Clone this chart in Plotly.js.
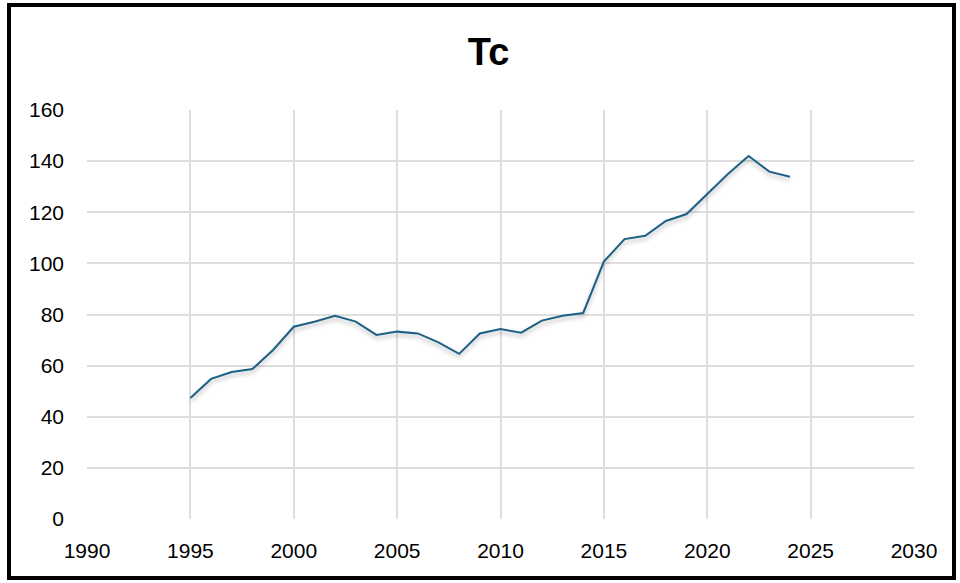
<!DOCTYPE html>
<html>
<head>
<meta charset="utf-8">
<script src="https://cdn.plot.ly/plotly-3.0.1.min.js"></script>
<style>
  html, body { margin: 0; padding: 0; background: #fff; }
  #wrap { position: relative; width: 960px; height: 583px; }
  #chart { position: absolute; left: 0; top: 0; width: 960px; height: 583px; }
  #frame { position: absolute; left: 7px; top: 3px; width: 949px; height: 577px;
           box-sizing: border-box; border: 4px solid #000; pointer-events: none; }
  #chart .scatterlayer path.js-line { filter: drop-shadow(0px 3px 2px rgba(0,0,0,0.28)); }
</style>
</head>
<body>
<div id="wrap">
  <div id="chart"></div>
  <div id="frame"></div>
</div>
<script>
const years = [1995, 1996, 1997, 1998, 1999, 2000, 2001, 2002, 2003, 2004,
               2005, 2006, 2007, 2008, 2009, 2010, 2011, 2012, 2013, 2014,
               2015, 2016, 2017, 2018, 2019, 2020, 2021, 2022, 2023, 2024];
const tcValues = [47.3, 54.8, 57.5, 58.7, 66.1, 75.2, 77.2, 79.5, 77.2, 72.0,
                  73.3, 72.6, 69.1, 64.6, 72.6, 74.3, 72.9, 77.6, 79.5, 80.6,
                  100.7, 109.5, 110.8, 116.6, 119.3, 127.2, 135.0, 142.0, 135.9, 133.9];
const chartTitle = 'Tc';
const xTicks = [1990, 1995, 2000, 2005, 2010, 2015, 2020, 2025, 2030];
const yTicks = [0, 20, 40, 60, 80, 100, 120, 140, 160];

const trace = {
  x: years,
  y: tcValues,
  type: 'scatter',
  mode: 'lines',
  line: { color: '#1c6185', width: 2 },
  hoverinfo: 'x+y'
};

const layout = {
  width: 960,
  height: 583,
  margin: { l: 87, r: 46, t: 110, b: 64, pad: 0 },
  paper_bgcolor: '#ffffff',
  plot_bgcolor: '#ffffff',
  showlegend: false,
  font: { family: '"Liberation Sans", Arial, Helvetica, sans-serif', size: 21, color: '#000' },
  title: {
    text: chartTitle,
    font: { family: '"Liberation Sans Narrow", "Arial Narrow", "Liberation Sans", Arial, sans-serif', size: 38, color: '#000', weight: 'bold' },
    x: 0.509, xref: 'container', xanchor: 'center',
    y: 1 - 52 / 583, yref: 'container', yanchor: 'middle'
  },
  xaxis: {
    range: [1990, 2030],
    tickmode: 'array',
    tickvals: xTicks,
    ticktext: xTicks.map(String),
    showgrid: true,
    gridcolor: '#dedede',
    gridwidth: 2,
    zeroline: false,
    showline: false,
    ticks: '',
    ticklabelstandoff: 17,
    tickfont: { size: 21 }
  },
  yaxis: {
    range: [0, 160],
    tickmode: 'array',
    tickvals: yTicks,
    ticktext: yTicks.map(String),
    showgrid: true,
    gridcolor: '#dedede',
    gridwidth: 2,
    zeroline: false,
    showline: false,
    ticks: '',
    ticklabelstandoff: 22,
    tickfont: { size: 21 }
  }
};

Plotly.newPlot('chart', [trace], layout, { displayModeBar: false, staticPlot: true });
</script>
</body>
</html>
